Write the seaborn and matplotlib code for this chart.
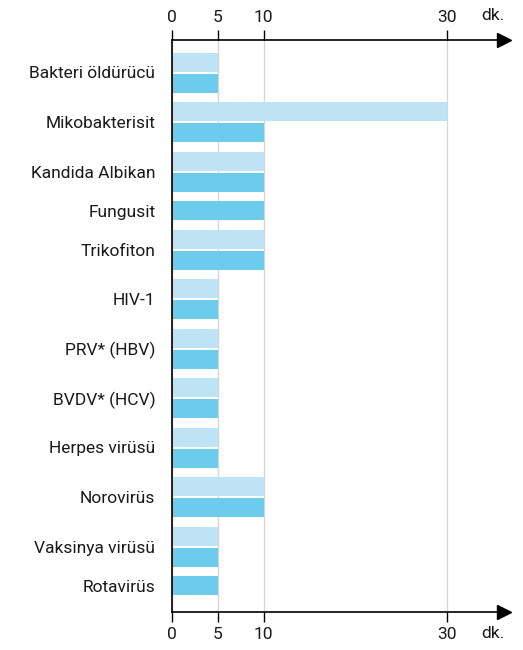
import numpy as np
import pandas as pd
import matplotlib
matplotlib.use("Agg")
import matplotlib.pyplot as plt
import seaborn as sns

# ---- data ----
categories = ["Bakteri öldürücü", "Mikobakterisit", "Kandida Albikan", "Fungusit",
              "Trikofiton", "HIV-1", "PRV* (HBV)", "BVDV* (HCV)", "Herpes virüsü",
              "Norovirüs", "Vaksinya virüsü", "Rotavirüs"]
light_values = [5, 30, 10, np.nan, 10, 5, 5, 5, 5, 10, 5, np.nan]
dark_values = [5, 10, 10, 10, 10, 5, 5, 5, 5, 10, 5, 5]
series_names = ["Süre 1", "Süre 2"]
x_ticks = [0, 5, 10, 30]
x_tick_labels = ["0", "5", "10", "30"]
unit_label = "dk."

# ---- style ----
sns.set_theme(style="white")
plt.rcParams["font.family"] = ["Roboto", "DejaVu Sans"]
light_color = "#bde3f4"
dark_color = "#6dcbeb"
text_color = "#1a1a1a"

W, H = 523, 650
fig = plt.figure(figsize=(W / 100, H / 100), dpi=100)
ax = fig.add_axes([172 / W, (H - 612) / H, (504 - 172) / W, (612 - 40) / H])

# build long table, stacking bars vertically (pitch within a group / between groups)
inner, outer = 21.0, 28.5
rows, group_centers = [], []
pos, prev = 0.0, None
for i, cat in enumerate(categories):
    bp = []
    for s, vals in zip(series_names, [light_values, dark_values]):
        v = vals[i]
        if v is None or np.isnan(v):
            continue
        if prev is not None:
            pos += inner if prev == i else outer
        prev = i
        rows.append({"pos": pos, "value": v, "series": s})
        bp.append(pos)
    group_centers.append(np.mean(bp))
df = pd.DataFrame(rows)

sns.barplot(data=df, x="value", y="pos", hue="series", hue_order=series_names,
            palette=[light_color, dark_color], saturation=1, orient="h",
            native_scale=True, dodge=False, width=19 / 21, linewidth=0,
            errorbar=None, legend=False, ax=ax)

ax.set_xlim(0, (504 - 172) / ((447 - 172) / 30))
ax.set_ylim(pos + 26.5, -22)
ax.set_xlabel("")
ax.set_ylabel("")

ax.set_yticks(group_centers)
ax.set_yticklabels(categories, fontsize=12.5, color=text_color)
ax.tick_params(axis="y", length=0, pad=12)

ax.set_xticks(x_ticks)
ax.set_xticklabels(x_tick_labels)
ax.tick_params(axis="x", top=True, bottom=True, labeltop=True, labelbottom=True,
               direction="out", length=7, width=1, color="black",
               labelsize=12.5, labelcolor=text_color, pad=4)

ax.grid(axis="x", color="#d6d6d6", linewidth=1)
ax.grid(axis="y", visible=False)
ax.set_axisbelow(True)

for side in ["top", "bottom", "left"]:
    ax.spines[side].set_color("black")
    ax.spines[side].set_linewidth(1.2)
ax.spines["right"].set_visible(False)

# arrows at the end of both axis lines
for yy in (0, 1):
    ax.plot([1.0], [yy], marker=">", markersize=10, color="black",
            transform=ax.transAxes, clip_on=False)

fig.text(493 / W, 1 - 15 / H, unit_label, ha="center", va="center",
         fontsize=12.5, color=text_color)
fig.text(493 / W, 1 - 634 / H, unit_label, ha="center", va="center",
         fontsize=12.5, color=text_color)

fig.savefig("out.png", dpi=100)
